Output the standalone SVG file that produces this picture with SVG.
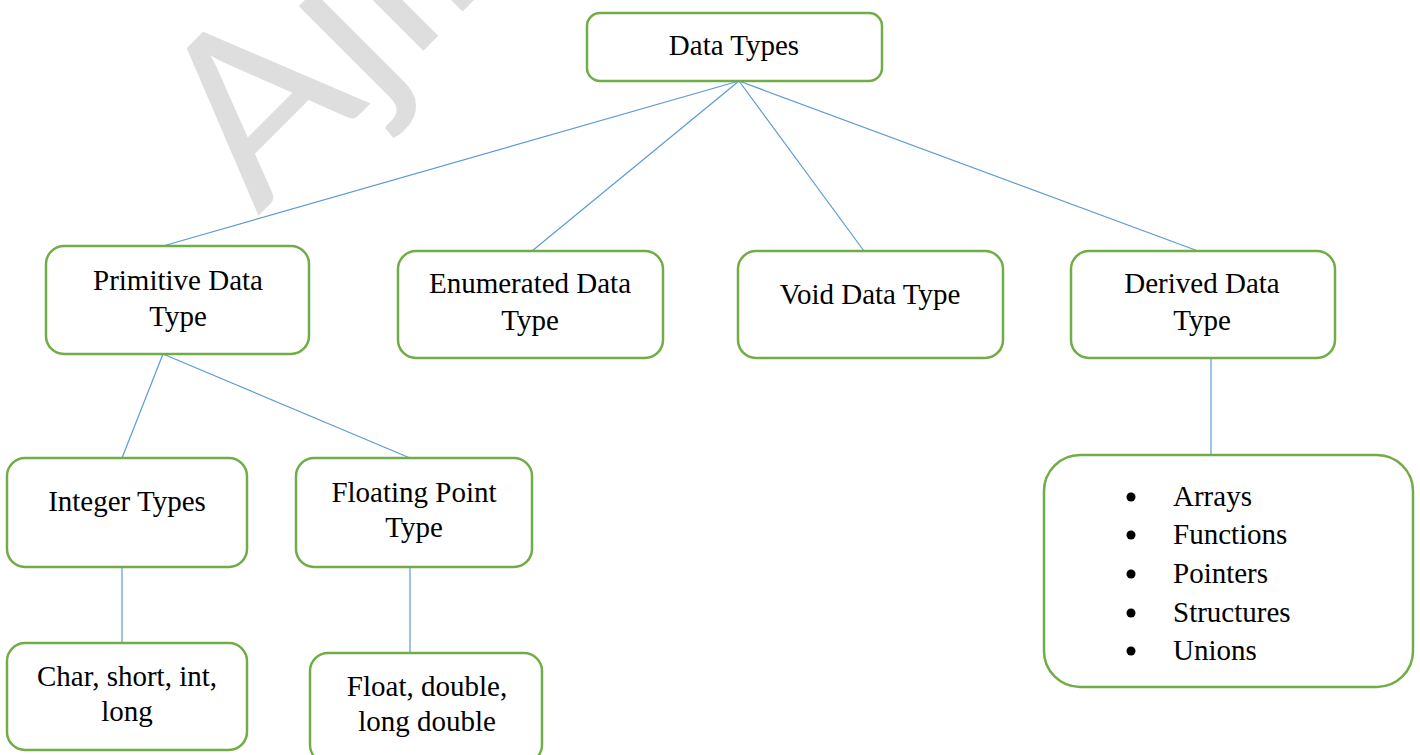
<svg xmlns="http://www.w3.org/2000/svg" width="1420" height="755" viewBox="0 0 1420 755">
<style>
.box{fill:#fff;stroke:#70AD47;stroke-width:2.5}
.t{font-family:"Liberation Serif","Times New Roman",serif;font-size:29px;fill:#000;text-anchor:middle}
.l{font-family:"Liberation Serif","Times New Roman",serif;font-size:29px;fill:#000}
.c line{stroke:#5B9BD5;stroke-width:1.2}
.wm{font-family:Lato,"Open Sans",sans-serif;font-size:236px;fill:#DEDEDE}
.b{fill:#000}
</style>
<rect width="1420" height="755" fill="#fff"/>
<g id="watermark">
<text class="wm" transform="translate(258,216) rotate(-45)">Ajin</text>
</g>
<g id="connectors" class="c">
<line x1="739" y1="81" x2="163" y2="246"/>
<line x1="739" y1="81" x2="532" y2="251"/>
<line x1="739" y1="81" x2="864" y2="251"/>
<line x1="739" y1="81" x2="1198" y2="251"/>
<line x1="163" y1="354" x2="122" y2="458"/>
<line x1="163" y1="354" x2="410" y2="458"/>
<line x1="122" y1="567" x2="122" y2="643"/>
<line x1="410" y1="567" x2="410" y2="653"/>
<line x1="1211" y1="358" x2="1211" y2="455"/>
</g>
<g id="n-datatypes">
<rect class="box" x="587" y="13" width="295" height="68" rx="13"/>
<text class="t" x="734" y="55">Data Types</text>
</g>
<g id="n-primitive">
<rect class="box" x="46" y="246" width="263" height="108" rx="18"/>
<text class="t" x="178" y="290">Primitive Data</text>
<text class="t" x="178" y="326">Type</text>
</g>
<g id="n-enumerated">
<rect class="box" x="398" y="251" width="265" height="107" rx="18"/>
<text class="t" x="530" y="293">Enumerated Data</text>
<text class="t" x="530" y="330">Type</text>
</g>
<g id="n-void">
<rect class="box" x="738" y="251" width="265" height="107" rx="18"/>
<text class="t" x="870" y="304">Void Data Type</text>
</g>
<g id="n-derived">
<rect class="box" x="1071" y="251" width="264" height="107" rx="18"/>
<text class="t" x="1202" y="293">Derived Data</text>
<text class="t" x="1202" y="330">Type</text>
</g>
<g id="n-integer">
<rect class="box" x="7" y="458" width="240" height="109" rx="18"/>
<text class="t" x="127" y="511">Integer Types</text>
</g>
<g id="n-floating">
<rect class="box" x="296" y="458" width="236" height="109" rx="18"/>
<text class="t" x="414" y="502">Floating Point</text>
<text class="t" x="414" y="537">Type</text>
</g>
<g id="n-char">
<rect class="box" x="7" y="643" width="240" height="107" rx="18"/>
<text class="t" x="127" y="686">Char, short, int,</text>
<text class="t" x="127" y="721">long</text>
</g>
<g id="n-float">
<rect class="box" x="310" y="653" width="232" height="110" rx="18"/>
<text class="t" x="427" y="696">Float, double,</text>
<text class="t" x="427" y="731">long double</text>
</g>
<g id="n-derived-list">
<rect class="box" x="1044" y="455" width="369" height="232" rx="36"/>
<circle class="b" cx="1131" cy="497" r="4.5"/>
<text class="l" x="1173" y="506">Arrays</text>
<circle class="b" cx="1131" cy="535" r="4.5"/>
<text class="l" x="1173" y="544">Functions</text>
<circle class="b" cx="1131" cy="574" r="4.5"/>
<text class="l" x="1173" y="583">Pointers</text>
<circle class="b" cx="1131" cy="613" r="4.5"/>
<text class="l" x="1173" y="622">Structures</text>
<circle class="b" cx="1131" cy="651" r="4.5"/>
<text class="l" x="1173" y="660">Unions</text>
</g>
</svg>
